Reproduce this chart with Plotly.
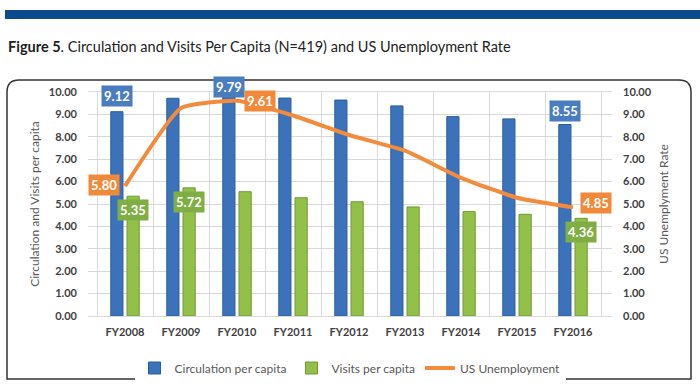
import plotly.graph_objects as go

# ---------------- data ----------------
years = ["FY2008", "FY2009", "FY2010", "FY2011", "FY2012", "FY2013", "FY2014", "FY2015", "FY2016"]
circulation = [9.12, 9.72, 9.79, 9.73, 9.64, 9.38, 8.90, 8.80, 8.55]
visits = [5.35, 5.72, 5.55, 5.28, 5.10, 4.87, 4.66, 4.54, 4.36]
unemployment = [5.80, 9.28, 9.61, 8.95, 8.08, 7.38, 6.17, 5.28, 4.85]
y_ticks = [0, 1, 2, 3, 4, 5, 6, 7, 8, 9, 10]

# which points carry data labels (indices)
circ_label_idx = [0, 2, 8]
visit_label_idx = [0, 1, 8]
unemp_label_idx = [0, 2, 8]

# ---------------- style ----------------
W, H = 700, 392
ML, MR, MT, MB = 88, 88, 92, 76
PW, PH = W - ML - MR, H - MT - MB

BLUE = "#3C72BA"
BLUE_EDGE = "#2B5C9E"
BLUE_LBL = "#4A7DC0"
GREEN = "#93C048"
GREEN_EDGE = "#6F9A30"
GREEN_LBL = "#7FAE45"
ORANGE = "#F28C3C"
ORANGE_LBL = "#F08A3A"
GRID = "#D9D9D9"
TXT = "#404040"
FONT = "Lato"
TITLE_FONT = "Lato"


def px_x(px):
    return (px - ML) / PW


def px_y(py):
    return (H - MB - py) / PH


fig = go.Figure()
fig.add_trace(go.Bar(
    x=years, y=circulation, name="Circulation per capita",
    marker=dict(color=BLUE, line=dict(color=BLUE_EDGE, width=1)),
))
fig.add_trace(go.Bar(
    x=years, y=visits, name="Visits per capita",
    marker=dict(color=GREEN, line=dict(color=GREEN_EDGE, width=1)),
))
fig.add_trace(go.Scatter(
    x=years, y=unemployment, name="US Unemployment", yaxis="y2",
    mode="lines", line=dict(color=ORANGE, width=4, shape="spline", smoothing=0.45),
))

annotations = []
lbl_font = dict(family=FONT, size=13, color="white")
circ_shift = {0: 16, 2: 10, 8: 13}
for i in circ_label_idx:
    annotations.append(dict(
        x=years[i], y=circulation[i], xref="x", yref="y", text=f"<b>{circulation[i]:.2f}</b>",
        showarrow=False, bgcolor=BLUE_LBL, font=lbl_font, borderpad=2,
        xshift=-8.4, yshift=circ_shift[i]))
for i in visit_label_idx:
    annotations.append(dict(
        x=years[i], y=visits[i], xref="x", yref="y", text=f"<b>{visits[i]:.2f}</b>",
        showarrow=False, bgcolor=GREEN_LBL, font=lbl_font, borderpad=2,
        xshift=8.4, yshift=-14))
unemp_shift = {0: (-21, 1), 2: (23, 0), 8: (23, 4)}
for i in unemp_label_idx:
    dx, dy = unemp_shift[i]
    annotations.append(dict(
        x=years[i], y=unemployment[i], xref="x", yref="y2", text=f"<b>{unemployment[i]:.2f}</b>",
        showarrow=False, bgcolor=ORANGE_LBL, font=lbl_font, borderpad=2,
        xshift=dx, yshift=dy))

# title
annotations.append(dict(
    x=px_x(6), y=px_y(47), xref="paper", yref="paper", xanchor="left", yanchor="middle",
    text="<b>Figure 5</b>. Circulation and Visits Per Capita (N=419) and US Unemployment Rate",
    showarrow=False, font=dict(family=TITLE_FONT, size=14.5, color="#222222")))

shapes = [
    # top banner
    dict(type="rect", xref="paper", yref="paper", x0=px_x(5), x1=px_x(700), y0=px_y(10), y1=px_y(19),
         fillcolor="#0B4A8B", line=dict(width=0), layer="below"),
]
# rounded outer frame
x0, x1, y0, y1, r = 7, 691, 80, 379, 12
path = (f"M {px_x(x0 + r)} {px_y(y0)} L {px_x(x1 - r)} {px_y(y0)} "
        f"Q {px_x(x1)} {px_y(y0)} {px_x(x1)} {px_y(y0 + r)} "
        f"L {px_x(x1)} {px_y(y1)} L {px_x(x0)} {px_y(y1)} "
        f"L {px_x(x0)} {px_y(y0 + r)} Q {px_x(x0)} {px_y(y0)} {px_x(x0 + r)} {px_y(y0)} Z")
shapes.append(dict(type="path", path=path, xref="paper", yref="paper",
                   line=dict(color="#333333", width=1.5), layer="below"))

fig.update_layout(
    width=W, height=H,
    margin=dict(l=ML, r=MR, t=MT, b=MB, autoexpand=False),
    paper_bgcolor="white", plot_bgcolor="white",
    barmode="group", bargap=0.42, bargroupgap=0.25,
    font=dict(family=FONT, color=TXT),
    showlegend=True,
    legend=dict(orientation="h", x=0.5, xanchor="center", y=px_y(368), yanchor="middle",
                font=dict(family=FONT, size=12, color="#595959"),
                traceorder="normal"),
    xaxis=dict(type="category", tickson="boundaries", showgrid=True, gridcolor=GRID,
               ticks="", tickfont=dict(family=FONT, size=11, color=TXT, weight="bold"),
               showline=True, linecolor=GRID, mirror=True, ticklabelstandoff=6,
               automargin=False),
    yaxis=dict(range=[0, 10], tickvals=y_ticks, tickformat=".2f", showgrid=True, gridcolor=GRID,
               zeroline=False, showline=False, automargin=False,
               tickfont=dict(family=FONT, size=11, color=TXT, weight="bold"),
               ticklabelstandoff=10,
               title=dict(text="Circulation and Visits per capita",
                          font=dict(family=FONT, size=12, color="#595959"), standoff=6)),
    yaxis2=dict(range=[0, 10], tickvals=y_ticks, tickformat=".2f", overlaying="y", side="right",
                showgrid=False, zeroline=False, showline=False, automargin=False,
                tickfont=dict(family=FONT, size=11, color=TXT, weight="bold"),
                ticklabelstandoff=10,
                title=dict(text="US Unemplyment Rate",
                           font=dict(family=FONT, size=12, color="#595959"), standoff=8)),
    annotations=annotations,
    shapes=shapes,
)

fig.write_html("out.html", config={"displayModeBar": False},
               post_script="document.body.style.margin='0px';")
